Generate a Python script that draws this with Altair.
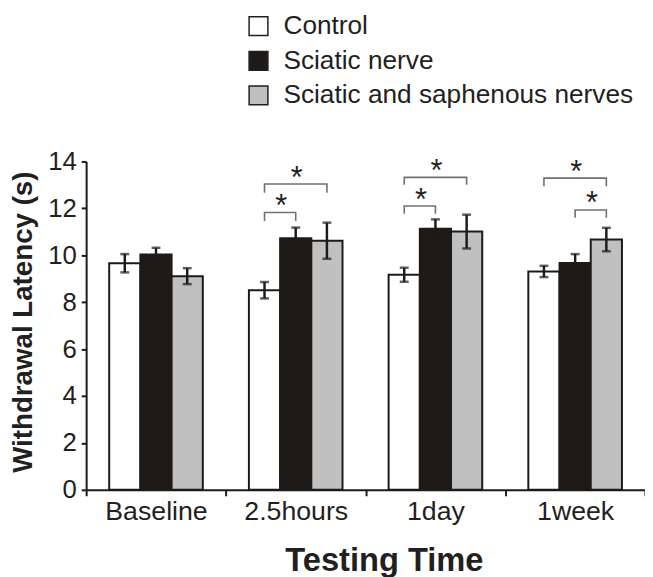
import altair as alt
import pandas as pd

times = ["Baseline", "2.5hours", "1day", "1week"]
groups = ["Control", "Sciatic nerve", "Sciatic and saphenous nerves"]
group_colors = ["#ffffff", "#1e1a18", "#c0c0c0"]

control_mean = [9.66, 8.51, 9.17, 9.31]
control_err = [0.39, 0.35, 0.30, 0.24]
sciatic_mean = [10.03, 10.73, 11.13, 9.67]
sciatic_err = [0.29, 0.45, 0.40, 0.38]
both_mean = [9.11, 10.62, 11.01, 10.67]
both_err = [0.34, 0.77, 0.72, 0.50]

# significance brackets: time, left group, right group, bar height, leg end, star height
br_time = ["2.5hours", "2.5hours", "1day", "1day", "1week", "1week"]
br_left = ["Control", "Control", "Control", "Control", "Sciatic nerve", "Control"]
br_right = ["Sciatic nerve", "Sciatic and saphenous nerves", "Sciatic nerve",
            "Sciatic and saphenous nerves", "Sciatic and saphenous nerves",
            "Sciatic and saphenous nerves"]
br_top = [11.82, 13.04, 12.10, 13.32, 11.93, 13.29]
br_leg = [11.46, 12.66, 11.77, 13.01, 11.60, 12.94]
br_star = [12.39, 13.58, 12.66, 13.88, 12.52, 13.86]

means = [control_mean, sciatic_mean, both_mean]
errs = [control_err, sciatic_err, both_err]
rows = []
for gi, g in enumerate(groups):
    for ti, t in enumerate(times):
        m, e = means[gi][ti], errs[gi][ti]
        rows.append({"Time": t, "Group": g, "mean": m, "lo": m - e, "hi": m + e})
bars_df = pd.DataFrame(rows)

line_rows = []
star_rows = []
for i in range(len(br_time)):
    pts = [(br_left[i], br_leg[i]), (br_left[i], br_top[i]),
           (br_right[i], br_top[i]), (br_right[i], br_leg[i])]
    for k, (g, y) in enumerate(pts):
        line_rows.append({"id": i, "k": k, "Time": br_time[i], "Group": g, "y": y})
    li, ri = groups.index(br_left[i]), groups.index(br_right[i])
    if ri - li == 2:
        star_rows.append({"Time": br_time[i], "Group": groups[li + 1], "y": br_star[i], "adj": 0})
    else:
        star_rows.append({"Time": br_time[i], "Group": br_left[i], "y": br_star[i], "adj": 1})
line_df = pd.DataFrame(line_rows)
star_df = pd.DataFrame(star_rows)
axis_df = pd.DataFrame({"Time": times})

FONT = "Liberation Sans"
INK = "#231f20"

xbar = alt.X("Time:N", sort=times, axis=None,
             scale=alt.Scale(paddingInner=0.33, paddingOuter=0.165))
xoff = alt.XOffset("Group:N", sort=groups,
                   scale=alt.Scale(domain=groups, paddingInner=0, paddingOuter=0))
yenc = alt.Y("mean:Q", scale=alt.Scale(domain=[0, 14], nice=False),
             axis=alt.Axis(values=[0, 2, 4, 6, 8, 10, 12, 14], title="Withdrawal Latency (s)",
                           labelFontSize=26, labelFont=FONT, labelColor=INK, labelPadding=5,
                           tickSize=5, titleFontSize=28, titleFont=FONT, titleFontWeight="bold",
                           titleColor=INK, titleX=-63, titleY=162, titleAngle=-90,
                           titleAlign="center", titleBaseline="middle", grid=False))

bars = alt.Chart(bars_df).mark_bar(stroke="#1e1a18", strokeWidth=2).encode(
    x=xbar, xOffset=xoff, y=yenc,
    color=alt.Color("Group:N", sort=groups,
                    scale=alt.Scale(domain=groups, range=group_colors),
                    legend=alt.Legend(title=None, orient="none", legendX=161, legendY=-150,
                                      symbolType="square", symbolSize=361,
                                      symbolStrokeColor="#231f20", symbolStrokeWidth=1.5,
                                      symbolOpacity=1, labelFontSize=26.5, labelFont=FONT,
                                      labelColor=INK, labelOffset=12, rowPadding=8,
                                      labelLimit=0, padding=0)),
)

err_rule = alt.Chart(bars_df).mark_rule(color="#1e1a18", strokeWidth=2.5).encode(
    x=xbar, xOffset=xoff, y="lo:Q", y2="hi:Q")

err_caps = alt.Chart(bars_df).transform_fold(["lo", "hi"], as_=["end", "v"]).mark_tick(
    color="#1e1a18", thickness=2.5, size=9, orient="horizontal").encode(
    x=xbar, xOffset=xoff, y="v:Q")

brackets = alt.Chart(line_df).mark_line(color="#707070", strokeWidth=1.6).encode(
    x=xbar, xOffset=xoff, y="y:Q", detail="id:N", order="k:Q")

stars_mid = alt.Chart(star_df).transform_filter("datum.adj == 0").mark_text(
    text="*", fontSize=31, font=FONT, color=INK, baseline="alphabetic", dy=17, dx=1).encode(
    x=xbar, xOffset=xoff, y="y:Q")
stars_adj = alt.Chart(star_df).transform_filter("datum.adj == 1").mark_text(
    text="*", fontSize=31, font=FONT, color=INK, baseline="alphabetic", dy=17, dx=17).encode(
    x=xbar, xOffset=xoff, y="y:Q")

inner = alt.layer(bars, err_rule, err_caps, brackets, stars_mid, stars_adj)

axis_layer = alt.Chart(axis_df).mark_bar(opacity=0).encode(
    x=alt.X("Time:N", sort=times,
            scale=alt.Scale(paddingInner=0, paddingOuter=0),
            axis=alt.Axis(title="Testing Time", tickBand="extent", tickSize=6,
                          labelFontSize=27, labelFont=FONT, labelColor=INK, labelPadding=3,
                          labelAngle=0, titleFontSize=33, titleFont=FONT,
                          titleFontWeight="bold", titleColor=INK, titleX=301, titleY=82,
                          titleAlign="center", titleBaseline="alphabetic")),
    y=alt.datum(0),
)

chart = alt.layer(inner, axis_layer).resolve_scale(x="independent").properties(
    width=565, height=332,
    autosize=alt.AutoSizeParams(type="none"),
    padding={"left": 79, "top": 152, "right": 0, "bottom": 85},
).configure_view(stroke=None).configure_axis(
    domainColor="#1e1a18", domainWidth=2, tickColor="#1e1a18", tickWidth=2,
)

chart.save("out.html", embed_options={"renderer": "svg", "actions": False})
